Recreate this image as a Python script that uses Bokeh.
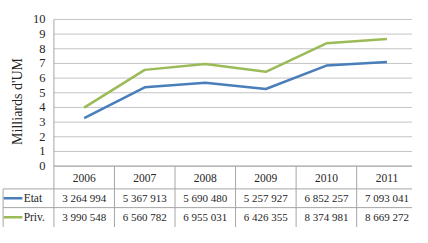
from bokeh.plotting import figure
from bokeh.models import Range1d
from bokeh.core.properties import value
from bokeh.embed import file_html
from bokeh.resources import INLINE

years = ["2006", "2007", "2008", "2009", "2010", "2011"]
etat = [3264994, 5367913, 5690480, 5257927, 6852257, 7093041]
priv = [3990548, 6560782, 6955031, 6426355, 8374981, 8669272]
etat_txt = ["3 264 994", "5 367 913", "5 690 480", "5 257 927", "6 852 257", "7 093 041"]
priv_txt = ["3 990 548", "6 560 782", "6 955 031", "6 426 355", "8 374 981", "8 669 272"]
yticks = list(range(0, 11))
series_names = ["Etat", "Priv."]
y_label = "Milliards d'UM"

BLUE = "#4a7ebb"
GREEN = "#9bbb59"
GRID = "#c4c4c4"
TBL = "#a6a6a6"
TXT = "#262626"
FONT = value("Liberation Serif")

p = figure(width=412, height=227, output_backend="svg", toolbar_location=None,
           x_range=Range1d(-0.882, 5.922), y_range=Range1d(-4.185, 11.29),
           x_axis_location=None, y_axis_location=None, min_border=0)
p.outline_line_color = None
p.xgrid.visible = False
p.ygrid.visible = False

ncol = len(years)
XR = 6.2
# horizontal gridlines
p.segment(x0=[0] * len(yticks), x1=[XR] * len(yticks), y0=yticks, y1=yticks,
          line_color=GRID, line_width=1)
# frame left border and table vertical lines
p.segment(x0=[0], x1=[0], y0=[10], y1=[-4.5], line_color=TBL, line_width=1)
xs_v = list(range(1, ncol))
p.segment(x0=xs_v, x1=xs_v, y0=[0] * len(xs_v), y1=[-4.5] * len(xs_v), line_color=TBL, line_width=1)
# header column left border
p.segment(x0=[-0.839], x1=[-0.839], y0=[-1.554], y1=[-4.5], line_color=TBL, line_width=1)
# table horizontal lines
row_b = [-1.554, -2.83]
p.segment(x0=[-0.839] * 2, x1=[XR] * 2, y0=row_b, y1=row_b, line_color=TBL, line_width=1)
p.segment(x0=[0], x1=[XR], y0=[0], y1=[0], line_color=TBL, line_width=1)

# series lines
xc = [i + 0.5 for i in range(ncol)]
p.line(xc, [v / 1e6 for v in etat], line_color=BLUE, line_width=2.5)
p.line(xc, [v / 1e6 for v in priv], line_color=GREEN, line_width=2.5)

# y tick labels
p.text(x=[-0.14] * len(yticks), y=yticks, text=[str(t) for t in yticks],
       text_align="right", text_baseline="middle", text_font=FONT,
       text_font_size="12.5px", text_color=TXT)
# y axis label
p.text(x=[-0.6], y=[4.41], text=[y_label], angle=1.5708, text_align="center",
       text_baseline="middle", text_font=FONT, text_font_size="14px", text_color=TXT)

# table text
p.text(x=xc, y=[-0.777] * ncol, text=years, text_align="center", text_baseline="middle",
       text_font=FONT, text_font_size="11.5px", text_color=TXT)
p.text(x=xc, y=[-2.19] * ncol, text=etat_txt, text_align="center", text_baseline="middle",
       text_font=FONT, text_font_size="11px", text_color=TXT)
p.text(x=xc, y=[-3.48] * ncol, text=priv_txt, text_align="center", text_baseline="middle",
       text_font=FONT, text_font_size="11px", text_color=TXT)

# legend keys in row headers
p.segment(x0=[-0.83, -0.83], x1=[-0.52, -0.52], y0=[-2.19, -3.48], y1=[-2.19, -3.48],
          line_color=[BLUE, GREEN], line_width=2.5)
p.text(x=[-0.5, -0.5], y=[-2.19, -3.48], text=series_names, text_align="left",
       text_baseline="middle", text_font=FONT, text_font_size="11.5px", text_color=TXT)

open("out.html", "w").write(file_html(p, INLINE))
